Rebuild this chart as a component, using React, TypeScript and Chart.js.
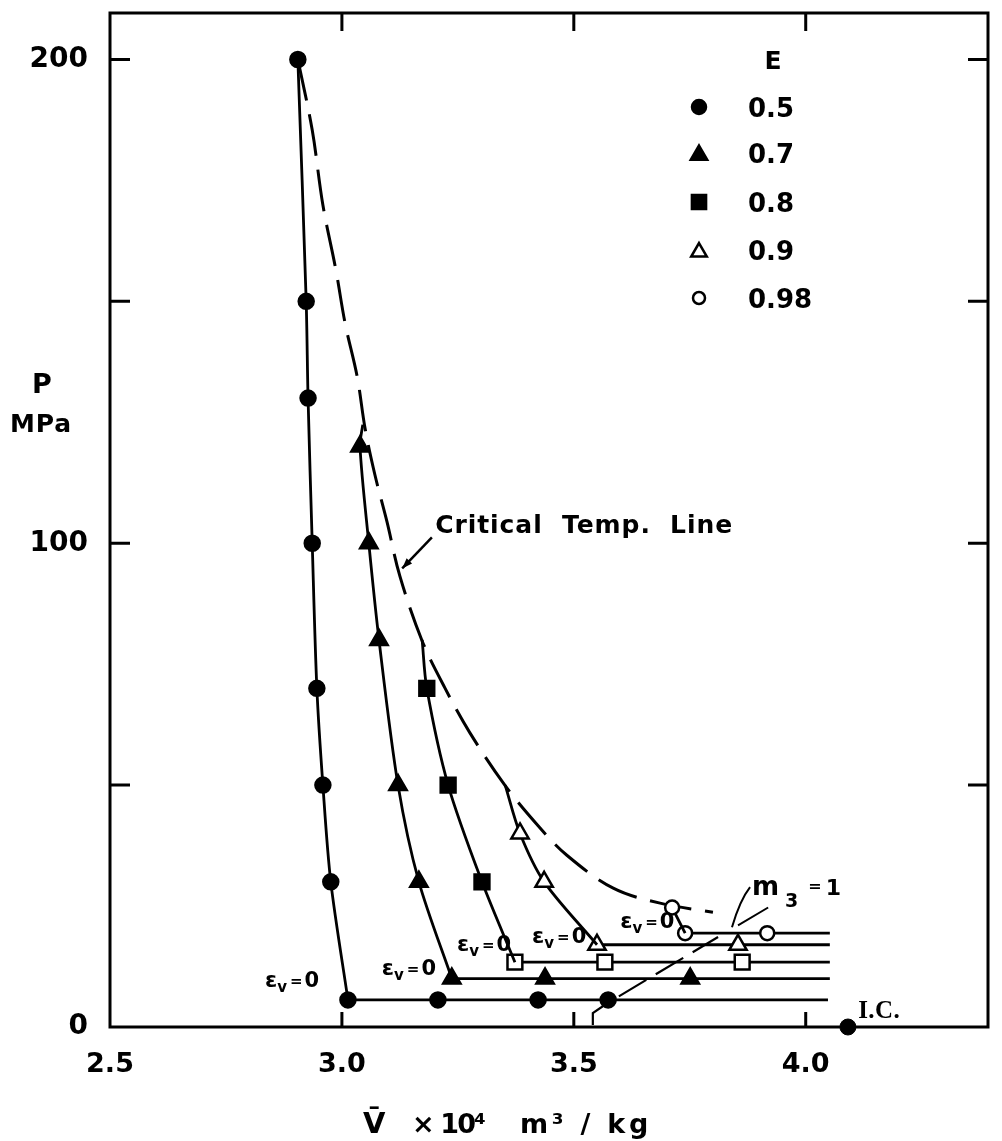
import React, { useEffect, useRef } from 'react';
import { Chart, registerables } from 'chart.js';

Chart.register(...registerables);

const FONT = '"DejaVu Sans", "Liberation Sans", sans-serif';
const SERIF = '"Liberation Serif", "DejaVu Serif", serif';
const INK = '#000000';
const PAPER = '#ffffff';

// ---- axes ----
const xMin = 2.5;
const xMax = 4.393;
const xStep = 0.5;
const yMin = 0;
const yMax = 209.6;
const yStep = 50;
const yLabelled = [0, 100, 200];

// ---- E = 0.5 (filled circles) ----
const e05CurveV = [2.905, 2.923, 2.927, 2.936, 2.946, 2.959, 2.976, 3.013];
const e05CurveP = [200, 150, 130, 100, 70, 50, 30, 5.6];
const e05FlatV = [3.013, 3.207, 3.423, 3.574, 4.048];
const e05FlatP = 5.6;

// ---- E = 0.7 (filled triangles) ----
const e07CurveV = [3.045, 3.039, 3.058, 3.08, 3.121, 3.166, 3.237];
const e07CurveP = [124.5, 120, 100, 80, 50, 30, 10];
const e07FlatV = [3.237, 3.438, 3.751, 4.052];
const e07FlatP = 10;

// ---- E = 0.8 (filled squares) ----
const e08CurveV = [3.173, 3.183, 3.229, 3.302, 3.373];
const e08CurveP = [80, 70, 50, 30, 13.4];
const e08FlatV = [3.373, 3.567, 3.863, 4.052];
const e08FlatP = 13.4;

// ---- E = 0.9 (open triangles) ----
const e09CurveV = [3.352, 3.384, 3.436, 3.55];
const e09CurveP = [50, 40, 30, 17];
const e09FlatV = [3.55, 3.854, 4.052];
const e09FlatP = 17;

// ---- E = 0.98 (open circles) ----
const e98CurveV = [3.712, 3.74];
const e98CurveP = [24.7, 19.4];
const e98FlatV = [3.74, 3.917, 4.052];
const e98FlatP = 19.4;

// ---- critical temperature line (dashed) ----
const critV = [2.905, 2.936, 2.959, 2.987, 3.007, 3.033, 3.05, 3.071, 3.097, 3.125, 3.173, 3.222, 3.276, 3.352, 3.423, 3.485, 3.585, 3.686, 3.8];
const critP = [200, 185.4, 169.9, 156.5, 145.4, 134.4, 123.7, 114.2, 104.5, 93.2, 79.8, 70.1, 60.8, 49.9, 41.6, 35.5, 28.7, 25.6, 23.7];

// ---- m3 = 1 line ----
const m3V = [3.541, 3.541, 3.572, 3.811];
const m3P = [0.4, 2.9, 4.9, 18.6];

// ---- I.C. point ----
const icV = [4.091];
const icP = [0];

const legendTitle = 'E';
const legendLabels = ['0.5', '0.7', '0.8', '0.9', '0.98'];

// annotation anchors (data units)
const epsLabelAt = [
  [2.834, 8.2],
  [3.086, 10.7],
  [3.248, 15.7],
  [3.41, 17.3],
  [3.6, 20.4],
];
const critLabelAt = [3.201, 102.1];
const critLeader = [[3.194, 101.2], [3.13, 94.8]];
const m3LabelAt = [3.884, 27.2];
const m3Leader1 = [[3.88, 28.9], [3.858, 26.2], [3.841, 20.6]];
const m3Leader2 = [[3.919, 24.7], [3.854, 21.0]];
const icLabelAt = [4.113, 1.9];

type Style = 'circle' | 'triangle' | 'rect';

const SERIES: {
  label: string; curveV: number[]; curveP: number[]; flatV: number[]; flatP: number;
  style: Style; r: number; legendR: number; curveFilled: boolean; flatFilled: boolean; hideCurveStart: boolean;
}[] = [
  { label: legendLabels[0], curveV: e05CurveV, curveP: e05CurveP, flatV: e05FlatV, flatP: e05FlatP, style: 'circle', r: 7.5, legendR: 7, curveFilled: true, flatFilled: true, hideCurveStart: false },
  { label: legendLabels[1], curveV: e07CurveV, curveP: e07CurveP, flatV: e07FlatV, flatP: e07FlatP, style: 'triangle', r: 10, legendR: 9.5, curveFilled: true, flatFilled: true, hideCurveStart: true },
  { label: legendLabels[2], curveV: e08CurveV, curveP: e08CurveP, flatV: e08FlatV, flatP: e08FlatP, style: 'rect', r: 10.5, legendR: 10, curveFilled: true, flatFilled: false, hideCurveStart: true },
  { label: legendLabels[3], curveV: e09CurveV, curveP: e09CurveP, flatV: e09FlatV, flatP: e09FlatP, style: 'triangle', r: 10, legendR: 9, curveFilled: false, flatFilled: false, hideCurveStart: true },
  { label: legendLabels[4], curveV: e98CurveV, curveP: e98CurveP, flatV: e98FlatV, flatP: e98FlatP, style: 'circle', r: 7, legendR: 6, curveFilled: false, flatFilled: false, hideCurveStart: false },
];

const pts = (vs: number[], ps: number[] | number) =>
  vs.map((v, i) => ({ x: v, y: Array.isArray(ps) ? ps[i] : ps }));

const radii = (n: number, r: number, hideFirst: boolean, hideLast: boolean) =>
  Array.from({ length: n }, (_, i) => ((hideFirst && i === 0) || (hideLast && i === n - 1) ? 0 : r));

function buildDatasets() {
  const sets: any[] = [];
  SERIES.forEach((s) => {
    sets.push({
      label: `E=${s.label} compression`,
      data: pts(s.curveV, s.curveP),
      borderColor: INK,
      borderWidth: 2.8,
      tension: 0.3,
      pointStyle: s.style,
      pointRadius: radii(s.curveV.length, s.r, s.hideCurveStart, true),
      pointBackgroundColor: s.curveFilled ? INK : PAPER,
      pointBorderColor: INK,
      pointBorderWidth: 2.5,
      order: 1,
    });
    sets.push({
      label: `E=${s.label} eps_v=0`,
      data: pts(s.flatV, s.flatP),
      borderColor: INK,
      borderWidth: 2.8,
      tension: 0,
      pointStyle: s.style,
      pointRadius: radii(s.flatV.length, s.r, false, true),
      pointBackgroundColor: s.flatFilled ? INK : PAPER,
      pointBorderColor: INK,
      pointBorderWidth: 2.5,
      order: 1,
    });
  });
  sets.push({
    label: 'I.C.',
    data: pts(icV, icP),
    showLine: false,
    pointStyle: 'circle',
    pointRadius: 8,
    pointBackgroundColor: INK,
    pointBorderColor: INK,
    clip: false,
    order: 0,
  });
  sets.push({
    label: 'Critical Temp. Line',
    data: pts(critV, critP),
    borderColor: INK,
    borderWidth: 3,
    borderDash: [42, 14],
    tension: 0.35,
    pointRadius: 0,
    order: 3,
  });
  sets.push({
    label: 'm3 = 1',
    data: pts(m3V, m3P),
    borderColor: INK,
    borderWidth: 2.2,
    borderDash: [32, 11],
    tension: 0,
    pointRadius: 0,
    order: 3,
  });
  return sets;
}

function drawMarker(ctx: CanvasRenderingContext2D, style: Style, x: number, y: number, r: number, filled: boolean) {
  ctx.beginPath();
  if (style === 'circle') {
    ctx.arc(x, y, r, 0, Math.PI * 2);
  } else if (style === 'triangle') {
    let a = 0;
    ctx.moveTo(x + Math.sin(a) * r, y - Math.cos(a) * r);
    a += (2 * Math.PI) / 3;
    ctx.lineTo(x + Math.sin(a) * r, y - Math.cos(a) * r);
    a += (2 * Math.PI) / 3;
    ctx.lineTo(x + Math.sin(a) * r, y - Math.cos(a) * r);
  } else {
    const s = r * Math.SQRT1_2;
    ctx.rect(x - s, y - s, 2 * s, 2 * s);
  }
  ctx.closePath();
  ctx.fillStyle = filled ? INK : PAPER;
  ctx.fill();
  ctx.lineWidth = 2.5;
  ctx.strokeStyle = INK;
  ctx.stroke();
}

function fitText(ctx: CanvasRenderingContext2D, text: string, x: number, y: number, font: string, width?: number) {
  ctx.font = font;
  const anyCtx = ctx as any;
  if (width) {
    const w = ctx.measureText(text).width;
    const n = Array.from(text).length;
    anyCtx.letterSpacing = `${(width - w) / n}px`;
  }
  ctx.fillText(text, x, y);
  anyCtx.letterSpacing = '0px';
}

const decorPlugin = {
  id: 'decor',
  afterDraw(chart: any) {
    const { ctx, chartArea: ca } = chart;
    const xs = chart.scales.x;
    const ys = chart.scales.y;
    const X = (v: number) => xs.getPixelForValue(v);
    const Y = (v: number) => ys.getPixelForValue(v);
    ctx.save();
    ctx.strokeStyle = INK;
    ctx.fillStyle = INK;
    ctx.lineCap = 'butt';

    // frame
    ctx.lineWidth = 3;
    ctx.strokeRect(ca.left, ca.top, ca.right - ca.left, ca.bottom - ca.top);

    // inward ticks
    ctx.lineWidth = 3;
    ctx.beginPath();
    xs.ticks.forEach((t: any) => {
      if (t.value <= xMin || t.value >= xMax) return;
      const px = X(t.value);
      ctx.moveTo(px, ca.bottom);
      ctx.lineTo(px, ca.bottom - 15);
      ctx.moveTo(px, ca.top);
      ctx.lineTo(px, ca.top + 18);
    });
    ys.ticks.forEach((t: any) => {
      if (t.value <= yMin || t.value >= yMax) return;
      const py = Y(t.value);
      ctx.moveTo(ca.left, py);
      ctx.lineTo(ca.left + 20, py);
      ctx.moveTo(ca.right, py);
      ctx.lineTo(ca.right - 20, py);
    });
    ctx.stroke();

    ctx.textBaseline = 'alphabetic';
    ctx.textAlign = 'left';
    const B = 'bold';

    // y-axis title
    ctx.textAlign = 'center';
    fitText(ctx, 'P', 42, 393, `${B} 27px ${FONT}`);
    fitText(ctx, 'MPa', 41, 432, `${B} 25px ${FONT}`, 62);
    ctx.textAlign = 'left';

    // x-axis title
    fitText(ctx, 'V\u0304', 363, 1133, `${B} 29px ${FONT}`);
    fitText(ctx, '\u00d7 10\u2074', 412, 1133, `${B} 27px ${FONT}`, 72);
    fitText(ctx, 'm\u00b3 / kg', 520, 1133, `${B} 27px ${FONT}`, 132);

    // legend
    ctx.textAlign = 'center';
    fitText(ctx, legendTitle, 773, 69, `${B} 25px ${FONT}`);
    ctx.textAlign = 'left';
    const rows = [107, 153, 202, 250, 298];
    SERIES.forEach((s, i) => {
      drawMarker(ctx, s.style, 699, rows[i] + (s.style === 'triangle' ? 2 : 0), s.legendR, s.curveFilled);
      ctx.fillStyle = INK;
      fitText(ctx, s.label, 748, rows[i] + 10, `${B} 26px ${FONT}`);
    });

    // Critical Temp. Line label + leader
    ctx.fillStyle = INK;
    fitText(ctx, 'Critical  Temp.  Line', X(critLabelAt[0]), Y(critLabelAt[1]), `${B} 25px ${FONT}`, 298);
    ctx.lineWidth = 2.5;
    ctx.beginPath();
    ctx.moveTo(X(critLeader[0][0]), Y(critLeader[0][1]));
    ctx.lineTo(X(critLeader[1][0]), Y(critLeader[1][1]));
    ctx.stroke();
    {
      const x1 = X(critLeader[0][0]), y1 = Y(critLeader[0][1]);
      const x2 = X(critLeader[1][0]), y2 = Y(critLeader[1][1]);
      const a = Math.atan2(y2 - y1, x2 - x1);
      ctx.beginPath();
      ctx.moveTo(x2, y2);
      ctx.lineTo(x2 - 11 * Math.cos(a - 0.35), y2 - 11 * Math.sin(a - 0.35));
      ctx.lineTo(x2 - 11 * Math.cos(a + 0.35), y2 - 11 * Math.sin(a + 0.35));
      ctx.closePath();
      ctx.fill();
    }

    // eps_v = 0 labels
    epsLabelAt.forEach(([v, p]) => {
      let x = X(v);
      const y = Y(p);
      ctx.font = `${B} 22px ${FONT}`;
      ctx.fillText('\u03b5', x, y);
      x += ctx.measureText('\u03b5').width;
      ctx.font = `${B} 15px ${FONT}`;
      ctx.fillText('v', x, y + 5);
      x += ctx.measureText('v').width + 3;
      ctx.font = `${B} 15px ${FONT}`;
      ctx.fillText('=', x, y - 1);
      x += ctx.measureText('=').width + 2;
      ctx.font = `${B} 21px ${FONT}`;
      ctx.fillText('0', x, y);
    });

    // m3 = 1 label + leaders
    {
      let x = X(m3LabelAt[0]);
      const y = Y(m3LabelAt[1]);
      ctx.font = `${B} 26px ${FONT}`;
      ctx.fillText('m', x, y);
      x += ctx.measureText('m').width + 6;
      ctx.font = `${B} 19px ${FONT}`;
      ctx.fillText('3', x, y + 12);
      x += ctx.measureText('3').width + 10;
      ctx.font = `${B} 16px ${FONT}`;
      ctx.fillText('=', x, y - 4);
      x += ctx.measureText('=').width + 4;
      ctx.font = `${B} 22px ${FONT}`;
      ctx.fillText('1', x, y);
      ctx.lineWidth = 2;
      ctx.beginPath();
      ctx.moveTo(X(m3Leader1[0][0]), Y(m3Leader1[0][1]));
      ctx.quadraticCurveTo(X(m3Leader1[1][0]), Y(m3Leader1[1][1]), X(m3Leader1[2][0]), Y(m3Leader1[2][1]));
      ctx.moveTo(X(m3Leader2[0][0]), Y(m3Leader2[0][1]));
      ctx.lineTo(X(m3Leader2[1][0]), Y(m3Leader2[1][1]));
      ctx.stroke();
    }

    // I.C. label
    fitText(ctx, 'I.C.', X(icLabelAt[0]), Y(icLabelAt[1]), `${B} 25px ${SERIF}`, 42);

    ctx.restore();
  },
};

export default function App() {
  const canvasRef = useRef<HTMLCanvasElement>(null);

  useEffect(() => {
    document.body.style.margin = '0';
    const canvas = canvasRef.current;
    if (!canvas) return;
    const chart = new Chart(canvas, {
      type: 'line',
      data: { datasets: buildDatasets() },
      options: {
        animation: false,
        responsive: false,
        devicePixelRatio: 1,
        layout: { padding: { top: 10, right: 14, left: 0, bottom: 0 } },
        plugins: { legend: { display: false }, tooltip: { enabled: false }, title: { display: false } },
        scales: {
          x: {
            type: 'linear',
            min: xMin,
            max: xMax,
            grid: { display: false },
            border: { display: false },
            ticks: {
              stepSize: xStep,
              includeBounds: false,
              autoSkip: false,
              maxRotation: 0,
              padding: 14,
              color: INK,
              font: { family: FONT, size: 27, weight: 'bold' },
              callback: (v: any) => Number(v).toFixed(1),
            },
            afterFit: (s: any) => {
              s.height = 114;
              s.paddingLeft = 0; s.paddingRight = 0; s.paddingTop = 0; s.paddingBottom = 0;
            },
          },
          y: {
            type: 'linear',
            min: yMin,
            max: yMax,
            grid: { display: false },
            border: { display: false },
            ticks: {
              stepSize: yStep,
              includeBounds: false,
              autoSkip: false,
              padding: 14,
              color: INK,
              font: { family: FONT, size: 28, weight: 'bold' },
              callback: (v: any) => (yLabelled.includes(Number(v)) ? String(v) : ''),
            },
            afterFit: (s: any) => {
              s.width = 110;
              s.paddingLeft = 0; s.paddingRight = 0; s.paddingTop = 0; s.paddingBottom = 0;
            },
          },
        },
      },
      plugins: [decorPlugin],
    } as any);
    return () => chart.destroy();
  }, []);

  return (
    <div style={{ position: 'fixed', left: 0, top: 0, width: 1002, height: 1141, background: '#fff' }}>
      <canvas ref={canvasRef} width={1002} height={1141} style={{ display: 'block', width: 1002, height: 1141 }} />
    </div>
  );
}
